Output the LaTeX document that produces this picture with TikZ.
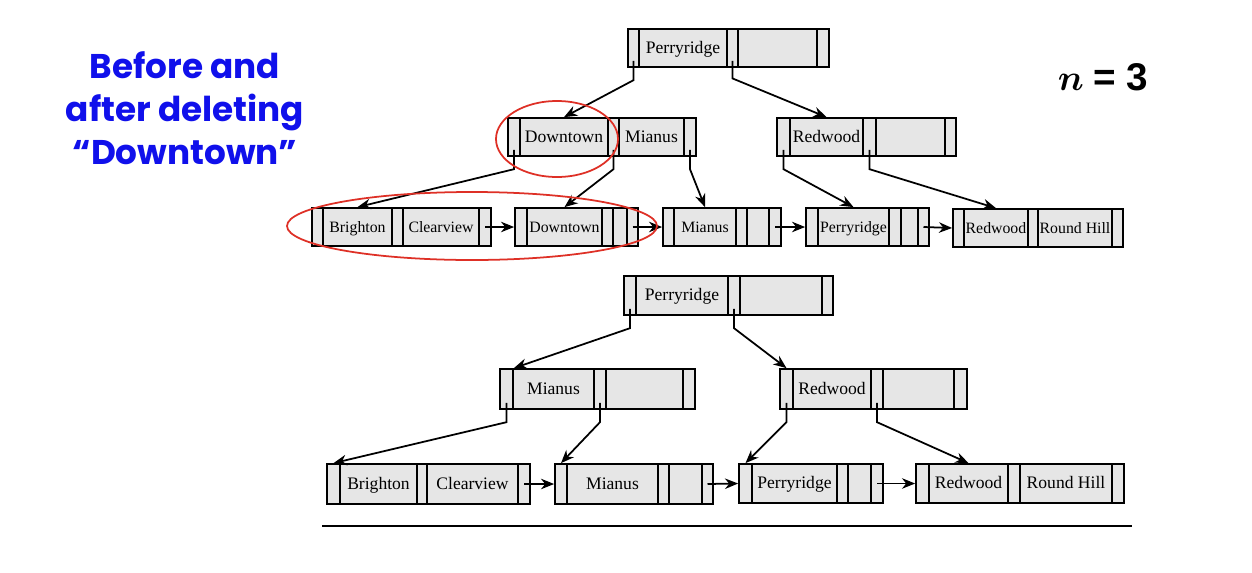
\documentclass[tikz,border=0pt]{standalone}
\usepackage{fontspec}
\setmainfont{Liberation Serif}
\setsansfont{Liberation Sans}
\newfontfamily\handfont{Poppins}
\usetikzlibrary{arrows.meta}

\definecolor{cellgray}{RGB}{230,230,230}
\definecolor{ringred}{RGB}{222,48,38}
\definecolor{noteblue}{RGB}{16,16,235}

% one box of a B+-tree node: [style] name, x1, x2, y1, y2, text (pixel units)
\newcommand{\cell}[7][]{%
  \node[cell, #1, minimum width={(#4-#3)*0.02cm}, minimum height={(#6-#5)*0.02cm}]
    (#2) at ({(#3+#4)/2}, {(#5+#6)/2}) {#7};}

\begin{document}
\begin{tikzpicture}[x=0.02cm, y=-0.02cm,
    cell/.style={draw, fill=cellgray, line width=1pt, inner sep=0pt,
                 text height=0.66em, text depth=0.06em,
                 font=\fontsize{10}{12}\selectfont},
    leaf/.style={font=\fontsize{9}{11}\selectfont},
    link/.style={line width=1pt, -{Stealth[length=7.5pt, width=6pt]}},
    ring/.style={draw=ringred, line width=1pt}]
    \useasboundingbox (0, 0) rectangle (1252, 572);

    % caption and order
    \node[font=\handfont\bfseries\fontsize{19.5}{24.5}\selectfont, text=noteblue, align=center] (note) at (185, 108)
        {Before and\\after deleting\\“Downtown”};
    \node[font=\fontsize{22}{26}\selectfont] (order) at (1103, 77) {{\boldmath$n$} \textsf{\bfseries = 3}};

    % before: root
    \cell{tr0}{628}{639}{29}{67}{}
    \cell{tr1}{639}{727}{29}{67}{Perryridge}
    \cell{tr2}{727}{738}{29}{67}{}
    \cell{tr3}{738}{817}{29}{67}{}
    \cell{tr4}{817}{829}{29}{67}{}
    % before: inner nodes
    \cell{ta0}{508}{520}{118}{156}{}
    \cell{ta1}{520}{608}{118}{156}{Downtown}
    \cell{ta2}{608}{619}{118}{156}{}
    \cell{ta3}{619}{684}{118}{156}{Mianus}
    \cell{ta4}{684}{696}{118}{156}{}
    \cell{tb0}{777}{790}{118}{156}{}
    \cell{tb1}{790}{863}{118}{156}{Redwood}
    \cell{tb2}{863}{876}{118}{156}{}
    \cell{tb3}{876}{945}{118}{156}{}
    \cell{tb4}{945}{956}{118}{156}{}
    % before: leaves
    \cell[leaf]{tla0}{312}{323}{208}{246}{}
    \cell[leaf]{tla1}{323}{392}{208}{246}{Brighton}
    \cell[leaf]{tla2}{392}{403}{208}{246}{}
    \cell[leaf]{tla3}{403}{479}{208}{246}{Clearview}
    \cell[leaf]{tla4}{479}{491}{208}{246}{}
    \cell[leaf]{tlb0}{515}{527}{208}{246}{}
    \cell[leaf]{tlb1}{527}{602}{208}{246}{Downtown}
    \cell[leaf]{tlb2}{602}{613}{208}{246}{}
    \cell[leaf]{tlb3}{613}{627}{208}{246}{}
    \cell[leaf]{tlb4}{627}{638}{208}{246}{}
    \cell[leaf]{tlc0}{663}{674}{208}{246}{}
    \cell[leaf]{tlc1}{674}{736}{208}{246}{Mianus}
    \cell[leaf]{tlc2}{736}{747}{208}{246}{}
    \cell[leaf]{tlc3}{747}{769}{208}{246}{}
    \cell[leaf]{tlc4}{769}{781}{208}{246}{}
    \cell[leaf]{tld0}{806}{818}{208}{246}{}
    \cell[leaf]{tld1}{818}{889}{208}{246}{Perryridge}
    \cell[leaf]{tld2}{889}{901}{208}{246}{}
    \cell[leaf]{tld3}{901}{918}{208}{246}{}
    \cell[leaf]{tld4}{918}{929}{208}{246}{}
    \cell[leaf]{tle0}{953}{964}{209}{247}{}
    \cell[leaf]{tle1}{964}{1028}{209}{247}{Redwood}
    \cell[leaf]{tle2}{1028}{1038}{209}{247}{}
    \cell[leaf]{tle3}{1038}{1112}{209}{247}{Round Hill}
    \cell[leaf]{tle4}{1112}{1123}{209}{247}{}

    % before: pointers
    \draw[link] ([yshift=4pt]tr0.south) -- ([yshift=-7pt]tr0.south) -- (ta1.north);
    \draw[link] ([yshift=4pt]tr2.south) -- ([yshift=-6pt]tr2.south) -- (tb1.north);
    \draw[link] ([yshift=4pt]ta0.south) -- ([yshift=-7pt]ta0.south) -- (tla1.north);
    \draw[link] ([yshift=4pt]ta2.south) -- ([yshift=-7pt]ta2.south) -- (tlb1.north);
    \draw[link] ([yshift=4pt]ta4.south) -- ([yshift=-7pt]ta4.south) -- (tlc1.north);
    \draw[link] ([yshift=4pt]tb0.south) -- ([yshift=-7pt]tb0.south) -- (tld1.north);
    \draw[link] ([yshift=4pt]tb2.south) -- ([yshift=-7pt]tb2.south) -- (tle1.north);
    \draw[link] (tla4.center) -- (tlb0.west);
    \draw[link] (tlb4.center) -- (tlc0.west);
    \draw[link] (tlc4.center) -- (tld0.west);
    \draw[link] (tld4.center) -- (tle0.west);

    % marks on the deleted key
    \draw[ring] (557, 139) ellipse [x radius=61, y radius=38];
    \draw[ring] (472, 226) ellipse [x radius=185, y radius=34];

    % after: root
    \cell{br0}{624}{636}{276}{315}{}
    \cell{br1}{636}{728}{276}{315}{Perryridge}
    \cell{br2}{728}{740}{276}{315}{}
    \cell{br3}{740}{822}{276}{315}{}
    \cell{br4}{822}{833}{276}{315}{}
    % after: inner nodes
    \cell{ba0}{500}{513}{369}{409}{}
    \cell{ba1}{513}{594}{369}{409}{Mianus}
    \cell{ba2}{594}{606}{369}{409}{}
    \cell{ba3}{606}{683}{369}{409}{}
    \cell{ba4}{683}{695}{369}{409}{}
    \cell{bb0}{780}{793}{369}{409}{}
    \cell{bb1}{793}{871}{369}{409}{Redwood}
    \cell{bb2}{871}{883}{369}{409}{}
    \cell{bb3}{883}{954}{369}{409}{}
    \cell{bb4}{954}{967}{369}{409}{}
    % after: leaves
    \cell{bla0}{327}{340}{464}{504}{}
    \cell{bla1}{340}{417}{464}{504}{Brighton}
    \cell{bla2}{417}{427}{464}{504}{}
    \cell{bla3}{427}{518}{464}{504}{Clearview}
    \cell{bla4}{518}{530}{464}{504}{}
    \cell{blb0}{555}{567}{464}{504}{}
    \cell{blb1}{567}{658}{464}{504}{Mianus}
    \cell{blb2}{658}{669}{464}{504}{}
    \cell{blb3}{669}{702}{464}{504}{}
    \cell{blb4}{702}{713}{464}{504}{}
    \cell{blc0}{739}{752}{464}{503}{}
    \cell{blc1}{752}{837}{464}{503}{Perryridge}
    \cell{blc2}{837}{848}{464}{503}{}
    \cell{blc3}{848}{871}{464}{503}{}
    \cell{blc4}{871}{883}{464}{503}{}
    \cell{bld0}{916}{929}{464}{503}{}
    \cell{bld1}{929}{1008}{464}{503}{Redwood}
    \cell{bld2}{1008}{1020}{464}{503}{}
    \cell{bld3}{1020}{1112}{464}{503}{Round Hill}
    \cell{bld4}{1112}{1124}{464}{503}{}

    % after: pointers
    \draw[link] ([yshift=4pt]br0.south) -- ([yshift=-7pt]br0.south) -- (ba0.north east);
    \draw[link] ([yshift=4pt]br2.south) -- ([yshift=-7pt]br2.south) -- (bb0.north);
    \draw[link] ([yshift=4pt]ba0.south) -- ([yshift=-7pt]ba0.south) -- (bla0.north);
    \draw[link] ([yshift=4pt]ba2.south) -- ([yshift=-7pt]ba2.south) -- (blb0.north);
    \draw[link] ([yshift=4pt]bb0.south) -- ([yshift=-7pt]bb0.south) -- (blc0.north);
    \draw[link] ([yshift=4pt]bb2.south) -- ([yshift=-7pt]bb2.south) -- (bld1.north);
    \draw[link] (bla4.center) -- (blb0.west);
    \draw[link] (blb4.center) -- (blc0.west);
    \draw[link, line width=0.5pt] (blc4.center) -- (bld0.west);

    \draw[line width=1pt] (322, 526) -- (1132, 526);
\end{tikzpicture}
\end{document}
